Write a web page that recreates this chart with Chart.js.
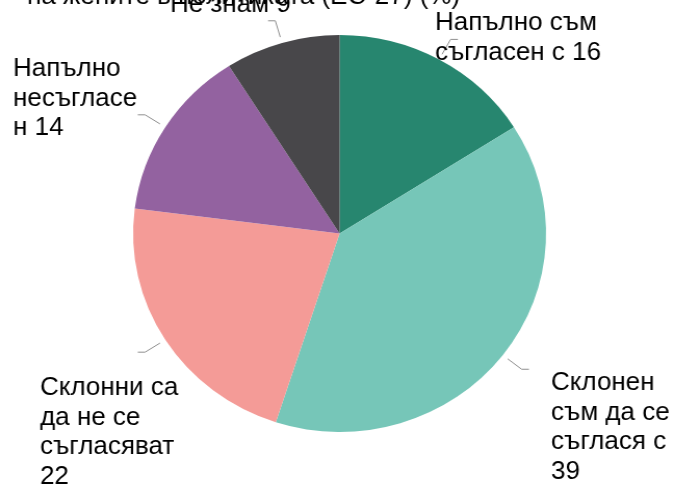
<!DOCTYPE html>
<html>
<head>
<meta charset="utf-8">
<script src="https://cdn.jsdelivr.net/npm/chart.js@4/dist/chart.umd.min.js"></script>
<style>
  html, body { margin: 0; padding: 0; background: #fff; overflow: hidden; }
  /* the chart is drawn slightly narrower and widened back, like the source slide */
  #wrap { width: 648px; height: 486px; transform: scaleX(1.0401); transform-origin: 0 0; }
</style>
</head>
<body>
<div id="wrap"><canvas id="pie"></canvas></div>
<script>
// survey answers, share of respondents (%)
const categories = [
    'Напълно съм съгласен',
    'Склонен съм да се съглася',
    'Склонни са да не се съгласяват',
    'Напълно несъгласен',
    'Не знам'
];
const shares = [16, 39, 22, 14, 9];
// label text as wrapped on the slide, %v is the value
const labelLines = [
    ['Напълно съм', 'съгласен с %v'],
    ['Склонен', 'съм да се', 'съглася с', '%v'],
    ['Склонни са', 'да не се', 'съгласяват', '%v'],
    ['Напълно', 'несъгласе', 'н %v'],
    ['Не знам %v']
];
const titleText = 'на жените в политиката (ЕС-27) (%)';

const SX = 1.0401;
const COLORS = ['#27866F', '#76C6B8', '#F49B97', '#9362A0', '#48474A'];

// left edge / first baseline of each label block, in page pixels
const LABEL_POS = [[435, 30], [551, 390], [40, 395], [13, 76], [170, 12]];
const LINE_H = 29.5;

const calloutPlugin = {
    id: 'callouts',
    afterDatasetsDraw(chart) {
        const ctx = chart.ctx;
        const meta = chart.getDatasetMeta(0);
        const values = chart.data.datasets[0].data;
        ctx.save();

        // leader lines
        ctx.strokeStyle = '#8f8f8f';
        ctx.lineWidth = 1;
        meta.data.forEach(arc => {
            const { x, y, startAngle, endAngle, outerRadius } = arc.getProps(['x', 'y', 'startAngle', 'endAngle', 'outerRadius'], true);
            const mid = (startAngle + endAngle) / 2;
            const c = Math.cos(mid), s = Math.sin(mid);
            const x1 = x + c * (outerRadius + 6), y1 = y + s * (outerRadius + 6);
            const x2 = x + c * (outerRadius + 23), y2 = y + s * (outerRadius + 23);
            const x3 = x2 + (c >= 0 ? 7 : -7);
            ctx.beginPath();
            ctx.moveTo(x1, y1);
            ctx.lineTo(x2, y2);
            ctx.lineTo(x3, y2);
            ctx.stroke();
        });

        ctx.fillStyle = '#000';
        ctx.font = '25px "Liberation Sans", Arial, sans-serif';
        ctx.textAlign = 'left';
        ctx.textBaseline = 'alphabetic';

        // title, mostly scrolled off the top
        ctx.fillText(titleText, 27 / SX, 3.5);

        labelLines.forEach((lines, i) => {
            const [px, py] = LABEL_POS[i];
            lines.forEach((ln, j) => {
                ctx.fillText(ln.replace('%v', values[i]), px / SX, py + j * LINE_H);
            });
        });
        ctx.restore();
    }
};

new Chart(document.getElementById('pie'), {
    type: 'pie',
    data: {
        labels: categories,
        datasets: [{
            data: shares,
            backgroundColor: COLORS,
            borderWidth: 0
        }]
    },
    options: {
        responsive: true,
        maintainAspectRatio: false,
        animation: false,
        layout: { padding: { left: 128, right: 123, top: 35, bottom: 54 } },
        plugins: {
            legend: { display: false },
            tooltip: { enabled: false }
        }
    },
    plugins: [calloutPlugin]
});
</script>
</body>
</html>
